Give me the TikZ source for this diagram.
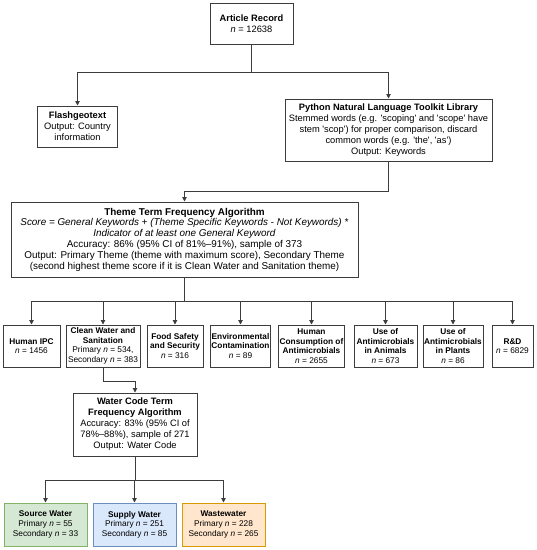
\documentclass[tikz,border=0pt]{standalone}
\usepackage{fontspec}
\newfontfamily\arialfont{Liberation Sans}
\usetikzlibrary{arrows.meta}
\definecolor{edgegray}{HTML}{3C3C3C}
\definecolor{greenfill}{HTML}{D5E8D4}
\definecolor{greenline}{HTML}{82B366}
\definecolor{bluefill}{HTML}{DAE8FC}
\definecolor{blueline}{HTML}{6C8EBF}
\definecolor{orangefill}{HTML}{FFE6CC}
\definecolor{orangeline}{HTML}{D79B00}
\begin{document}
\begin{tikzpicture}[x=1pt,y=-1pt,
  box/.style={draw=edgegray, line width=1pt, fill=white, inner sep=0pt, align=center,
    font=\arialfont\fontsize{9.3}{11}\selectfont},
  bigbox/.style={box, font=\arialfont\fontsize{9.9}{10.8}\selectfont},
  smallbox/.style={box, font=\arialfont\fontsize{8.3}{9.6}\selectfont},
  conn/.style={draw=edgegray, line width=0.9pt},
  arr/.style={conn, -{Triangle[length=4.5pt,width=4.5pt]}}
]
\useasboundingbox (0,0) rectangle (537,550);
% top
\node[box, minimum width=83pt, minimum height=41pt] (art) at (251.5,23.5)
  {\textbf{Article Record}\\\textit{n} = 12638};
\node[box, minimum width=80pt, minimum height=41pt] (flash) at (77.5,126.5)
  {\textbf{Flashgeotext}\\Output: Country\\information};
\node[box, minimum width=207pt, minimum height=62pt] (py) at (388.5,130)
  {\textbf{Python Natural Language Toolkit Library}\\Stemmed words (e.g. 'scoping' and 'scope' have\\stem 'scop') for proper comparison, discard\\common words (e.g. 'the', 'as')\\Output: Keywords};
\node[bigbox, minimum width=347pt, minimum height=75pt] (theme) at (184.5,239.5)
  {\textbf{Theme Term Frequency Algorithm}\\\textit{Score = General Keywords + (Theme Specific Keywords - Not Keywords) *}\\\textit{Indicator of at least one General Keyword}\\Accuracy: 86\% (95\% CI of 81\%–91\%), sample of 373\\Output: Primary Theme (theme with maximum score), Secondary Theme\\(second highest theme score if it is Clean Water and Sanitation theme)};
% row
\node[smallbox, minimum width=57pt, minimum height=42pt] (ipc) at (31.5,346)
  {\textbf{Human IPC}\\\textit{n} = 1456};
\node[smallbox, minimum width=74pt, minimum height=42pt] (cw) at (103,346)
  {\textbf{Clean Water and}\\\textbf{Sanitation}\\Primary \textit{n} = 534,\\Secondary \textit{n} = 383};
\node[smallbox, minimum width=56pt, minimum height=42pt] (food) at (175,346)
  {\textbf{Food Safety}\\\textbf{and Security}\\\textit{n} = 316};
\node[smallbox, minimum width=60pt, minimum height=42pt] (env) at (240.5,346)
  {\textbf{Environmental}\\\textbf{Contamination}\\\textit{n} = 89};
\node[smallbox, minimum width=66pt, minimum height=42pt] (hum) at (311.5,346)
  {\textbf{Human}\\\textbf{Consumption of}\\\textbf{Antimicrobials}\\\textit{n} = 2655};
\node[smallbox, minimum width=63pt, minimum height=42pt] (anim) at (385.5,346)
  {\textbf{Use of}\\\textbf{Antimicrobials}\\\textbf{in Animals}\\\textit{n} = 673};
\node[smallbox, minimum width=60pt, minimum height=42pt] (plant) at (453,346)
  {\textbf{Use of}\\\textbf{Antimicrobials}\\\textbf{in Plants}\\\textit{n} = 86};
\node[smallbox, minimum width=41pt, minimum height=42pt] (rd) at (512.5,346)
  {\textbf{R\&D}\\\textit{n} = 6829};
% water code
\node[box, minimum width=124pt, minimum height=63pt] (wc) at (135,424.5)
  {\textbf{Water Code Term}\\\textbf{Frequency Algorithm}\\Accuracy: 83\% (95\% CI of\\78\%–88\%), sample of 271\\Output: Water Code};
% bottom
\node[smallbox, draw=greenline, fill=greenfill, minimum width=83pt, minimum height=43pt] (src) at (45.5,524.5)
  {\textbf{Source Water}\\Primary \textit{n} = 55\\Secondary \textit{n} = 33};
\node[smallbox, draw=blueline, fill=bluefill, minimum width=83pt, minimum height=43pt] (sup) at (134.5,524.5)
  {\textbf{Supply Water}\\Primary \textit{n} = 251\\Secondary \textit{n} = 85};
\node[smallbox, draw=orangeline, fill=orangefill, minimum width=83pt, minimum height=43pt] (ww) at (223.5,524.5)
  {\textbf{Wastewater}\\Primary \textit{n} = 228\\Secondary \textit{n} = 265};
% junctions
\coordinate (j1) at (251.5,72);
\coordinate (j2) at (388.5,191);
\coordinate (j3) at (184.5,301);
\coordinate (j4) at (103,381);
\coordinate (j5) at (135,480);
% connectors
\draw[conn] (art.south) -- (j1);
\draw[arr] (j1) -| (flash.north);
\draw[arr] (j1) -| (py.north);
\draw[arr] (py.south) -- (j2) -| (theme.north);
\draw[conn] (theme.south) -- (j3);
\foreach \t in {ipc,cw,food,env,hum,anim,plant,rd} {
  \draw[arr] (j3) -| (\t.north);
}
\draw[arr] (cw.south) -- (j4) -| (wc.north);
\draw[conn] (wc.south) -- (j5);
\foreach \t in {src,sup,ww} {
  \draw[arr] (j5) -| (\t.north);
}
\end{tikzpicture}
\end{document}
